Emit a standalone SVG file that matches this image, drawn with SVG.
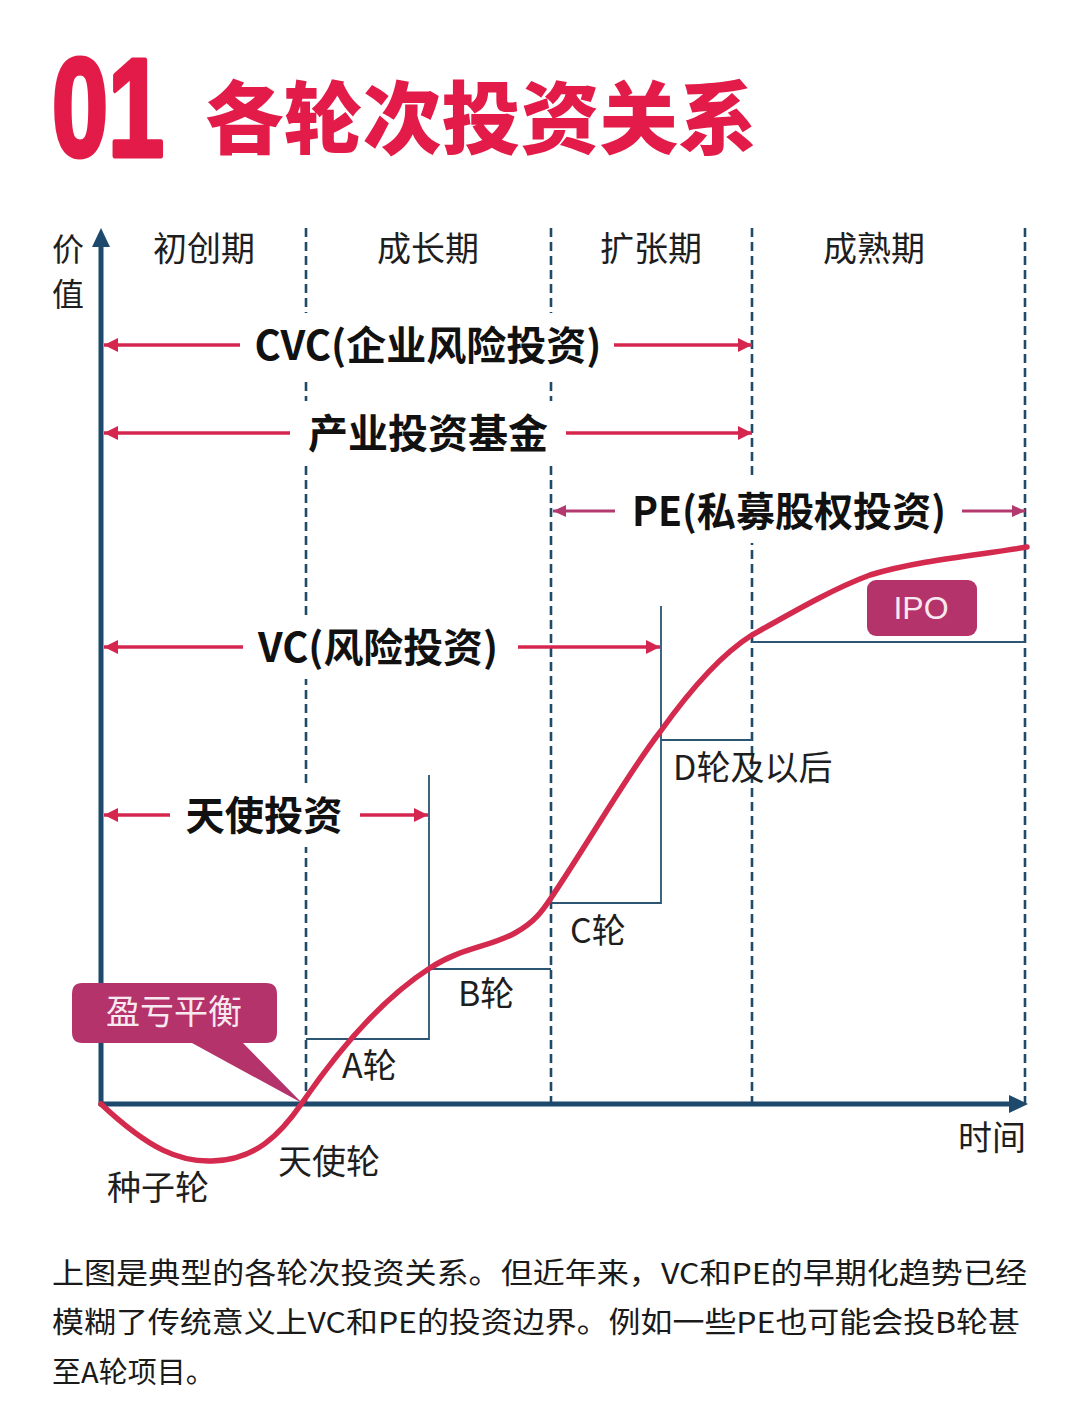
<svg xmlns="http://www.w3.org/2000/svg" width="1080" height="1409" viewBox="0 0 1080 1409">
<style>
.cjk{font-family:"Noto Sans CJK SC","Noto Sans",sans-serif;}
.period{font-size:34px;fill:#1e1e1e;text-anchor:middle;}
.band{font-size:40px;font-weight:700;fill:#111;text-anchor:middle;}
.lbl{font-size:34px;fill:#1e1e1e;}
.dash{stroke:#1f4a68;stroke-width:2.6;stroke-dasharray:9 5;fill:none;}
.step{stroke:#2b5573;stroke-width:1.8;fill:none;}
.arr{stroke:#d4264e;stroke-width:3.6;fill:none;marker-end:url(#ah);}
.arrp{stroke:#b23a6f;stroke-width:2.8;fill:none;marker-end:url(#ahp);}
.para{font-size:29px;fill:#1a1a1a;}
</style>
<defs>
<marker id="ah" markerUnits="userSpaceOnUse" markerWidth="15" markerHeight="14" refX="14" refY="7" orient="auto">
<path d="M0,0 L14,7 L0,14 Z" fill="#d4264e"/>
</marker>
<marker id="ahp" markerUnits="userSpaceOnUse" markerWidth="14" markerHeight="12" refX="13" refY="6" orient="auto">
<path d="M0,0 L13,6 L0,12 Z" fill="#b23a6f"/>
</marker>
</defs>
<rect x="0" y="0" width="1080" height="1409" fill="#ffffff"/>

<g id="title">
<text transform="translate(52,156) scale(0.72,1)" x="0" y="0" stroke="#e31b48" stroke-width="5" stroke-linejoin="round" style="font-family:'Liberation Sans',Arial,sans-serif;font-size:140px;font-weight:700;fill:#e31b48;">01</text>
<text class="cjk" x="205" y="148" textLength="552" lengthAdjust="spacingAndGlyphs" style="font-size:79px;font-weight:900;fill:#e31b48;">各轮次投资关系</text>
</g>

<g id="dashed-lines">
<line class="dash" x1="306" y1="228" x2="306" y2="1104"/>
<line class="dash" x1="551" y1="228" x2="551" y2="1104"/>
<line class="dash" x1="752" y1="228" x2="752" y2="1104"/>
<line class="dash" x1="1025" y1="228" x2="1025" y2="1104"/>
</g>

<g id="axes">
<line x1="101" y1="1106" x2="101" y2="242" stroke="#1d4a6c" stroke-width="5"/>
<path d="M101,228 L92,247 L110,247 Z" fill="#1d4a6c"/>
<line x1="99" y1="1104" x2="1012" y2="1104" stroke="#1d4a6c" stroke-width="5"/>
<path d="M1028,1104 L1009,1095 L1009,1113 Z" fill="#1d4a6c"/>
<text class="cjk" x="68" y="261" text-anchor="middle" style="font-size:32px;fill:#1e1e1e;">价</text>
<text class="cjk" x="68" y="306" text-anchor="middle" style="font-size:32px;fill:#1e1e1e;">值</text>
<text class="cjk lbl" x="958" y="1150">时间</text>
</g>

<g id="periods">
<text class="cjk period" x="204" y="261">初创期</text>
<text class="cjk period" x="428" y="261">成长期</text>
<text class="cjk period" x="651" y="261">扩张期</text>
<text class="cjk period" x="874" y="261">成熟期</text>
</g>

<g id="steps">
<polyline class="step" points="306,1039 429,1039 429,775"/>
<polyline class="step" points="429,969 551,969"/>
<polyline class="step" points="551,903 661,903 661,606"/>
<polyline class="step" points="661,740 752,740"/>
<polyline class="step" points="752,642 1025,642"/>
</g>

<g id="label-backgrounds" fill="#ffffff">
<rect x="246" y="313" width="362" height="64"/>
<rect x="298" y="401" width="258" height="64"/>
<rect x="622" y="479" width="332" height="64"/>
<rect x="250" y="615" width="258" height="64"/>
<rect x="178" y="783" width="174" height="64"/>
</g>

<g id="connectors">
<line class="arr" x1="240" y1="345" x2="104" y2="345"/>
<line class="arr" x1="614" y1="345" x2="752" y2="345"/>
<line class="arr" x1="290" y1="433" x2="104" y2="433"/>
<line class="arr" x1="566" y1="433" x2="752" y2="433"/>
<line class="arrp" x1="615" y1="511" x2="553" y2="511"/>
<line class="arrp" x1="962" y1="511" x2="1025" y2="511"/>
<line class="arr" x1="243" y1="647" x2="104" y2="647"/>
<line class="arr" x1="518" y1="647" x2="660" y2="647"/>
<line class="arr" x1="170" y1="815" x2="104" y2="815"/>
<line class="arr" x1="360" y1="815" x2="428" y2="815"/>
</g>

<g id="band-cvc"><text class="cjk band" x="428" y="360" textLength="347" lengthAdjust="spacingAndGlyphs">CVC(企业风险投资)</text></g>
<g id="band-industry"><text class="cjk band" x="428" y="448" textLength="240" lengthAdjust="spacingAndGlyphs">产业投资基金</text></g>
<g id="band-pe"><text class="cjk band" x="789" y="526" textLength="314" lengthAdjust="spacingAndGlyphs">PE(私募股权投资)</text></g>
<g id="band-vc"><text class="cjk band" x="378" y="662" textLength="240" lengthAdjust="spacingAndGlyphs">VC(风险投资)</text></g>
<g id="band-angel"><text class="cjk band" x="264" y="830" textLength="157" lengthAdjust="spacingAndGlyphs">天使投资</text></g>

<g id="round-labels">
<text class="cjk lbl" x="342" y="1078">A轮</text>
<text class="cjk lbl" x="458" y="1006">B轮</text>
<text class="cjk lbl" x="570" y="943">C轮</text>
<text class="cjk lbl" x="673" y="780">D轮及以后</text>
<text class="cjk lbl" x="107" y="1200">种子轮</text>
<text class="cjk lbl" x="278" y="1174">天使轮</text>
</g>

<g id="breakeven">
<path d="M82,983 H266 Q277,983 277,994 V1032 Q277,1043 266,1043 H243 L302,1103 L192,1043 H82 Q72,1043 72,1032 V994 Q72,983 82,983 Z" fill="#b5336b"/>
<text class="cjk" x="174" y="1024" text-anchor="middle" style="font-size:34px;fill:#f8e8f0;">盈亏平衡</text>
</g>

<g id="value-curve">
<path d="M101,1104 C150,1150 180,1162 212,1161 C255,1160 280,1135 302,1103 C335,1055 380,1000 430,968 C460,948 490,947 515,933 C535,922 543,910 551,898 C590,840 630,770 660,732 C690,690 720,655 752,635 C800,608 835,588 870,575 C920,560 980,555 1027,547" fill="none" stroke="#d42a4d" stroke-width="5.5" stroke-linecap="round"/>
</g>

<g id="ipo">
<rect x="867" y="580" width="110" height="56" rx="9" fill="#b5336b"/>
<text x="921" y="619" text-anchor="middle" style="font-family:'Liberation Sans',Arial,sans-serif;font-size:32px;fill:#f8e8f0;">IPO</text>
</g>

<g id="caption">
<text class="cjk para" x="52" y="1284" textLength="975" lengthAdjust="spacingAndGlyphs">上图是典型的各轮次投资关系。但近年来，VC和PE的早期化趋势已经</text>
<text class="cjk para" x="52" y="1333" textLength="968" lengthAdjust="spacingAndGlyphs">模糊了传统意义上VC和PE的投资边界。例如一些PE也可能会投B轮甚</text>
<text class="cjk para" x="52" y="1383">至A轮项目。</text>
</g>
</svg>
